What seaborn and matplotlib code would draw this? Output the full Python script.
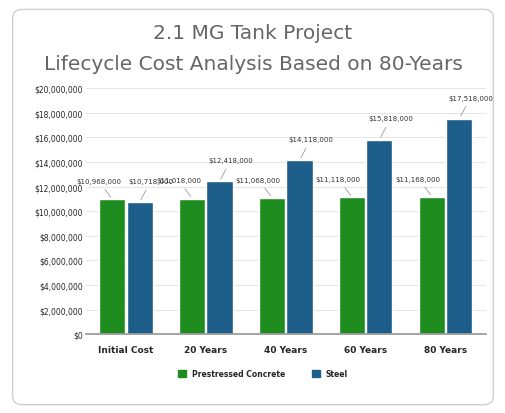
import matplotlib
matplotlib.use("Agg")
import matplotlib.pyplot as plt
import seaborn as sns
import pandas as pd
from matplotlib.patches import FancyBboxPatch, Patch

categories = ["Initial Cost", "20 Years", "40 Years", "60 Years", "80 Years"]
concrete = [10968000, 11018000, 11068000, 11118000, 11168000]
steel = [10718000, 12418000, 14118000, 15818000, 17518000]
series = ["Prestressed Concrete", "Steel"]
colors = ["#1e8c1e", "#1d5e8a"]

df = pd.DataFrame({
    "cat": categories * 2,
    "val": concrete + steel,
    "series": [series[0]] * 5 + [series[1]] * 5,
})

sns.set_theme(style="white")
plt.rcParams['font.family'] = ['DejaVu Sans']
fig = plt.figure(figsize=(5.06, 4.14), dpi=100)
fig.patches.append(FancyBboxPatch((0.025, 0.02), 0.95, 0.955, boxstyle="round,pad=0,rounding_size=0.02",
                                  transform=fig.transFigure, facecolor="white", edgecolor="#d0d0d0",
                                  linewidth=1.0, zorder=-1))
ax = fig.add_axes([0.17, 0.19, 0.79, 0.595])
sns.barplot(data=df, x="cat", y="val", hue="series", palette=colors, ax=ax,
            width=0.68, gap=0.04, legend=False, saturation=1)
ax.set_ylim(0, 20000000)
ax.set_yticks(range(0, 20000001, 2000000))
ax.set_yticklabels([f"${v:,}" for v in range(0, 20000001, 2000000)], fontsize=5.5)
ax.yaxis.grid(True, color="#e0e0e0", linewidth=0.6)
ax.set_axisbelow(True)
for s in ["top", "right", "left"]:
    ax.spines[s].set_visible(False)
ax.spines["bottom"].set_color("#999999")
ax.set_xlabel(""); ax.set_ylabel("")
ax.tick_params(axis="x", labelsize=6.5, length=0, pad=8)
for t in ax.get_xticklabels():
    t.set_fontweight("bold")
ax.tick_params(axis="y", length=0, pad=2)

for i, container in enumerate(ax.containers):
    for bar in container:
        h = bar.get_height()
        x = bar.get_x() + bar.get_width() / 2
        if i == 0:
            dx, dy = -10, 11
        else:
            dx, dy = 8, 13
        ax.annotate(f"${int(h):,}", (x, h), xytext=(dx, dy), textcoords="offset points",
                    fontsize=5, ha="center", va="bottom", color="#333333",
                    arrowprops=dict(arrowstyle="-", color="#888888", lw=0.5))

fig.text(0.5, 0.905, "2.1 MG Tank Project", ha="center", fontsize=14.5, color="#666666")
fig.text(0.5, 0.83, "Lifecycle Cost Analysis Based on 80-Years", ha="center", fontsize=14.5, color="#666666")

fig.legend(handles=[Patch(color=c, label=s) for c, s in zip(colors, series)], loc="center",
           bbox_to_anchor=(0.52, 0.095), ncol=2, frameon=False,
           handlelength=1, handleheight=1, columnspacing=3.5,
           prop={"weight": "bold", "size": 5.5})
fig.savefig("out.png", dpi=100)
